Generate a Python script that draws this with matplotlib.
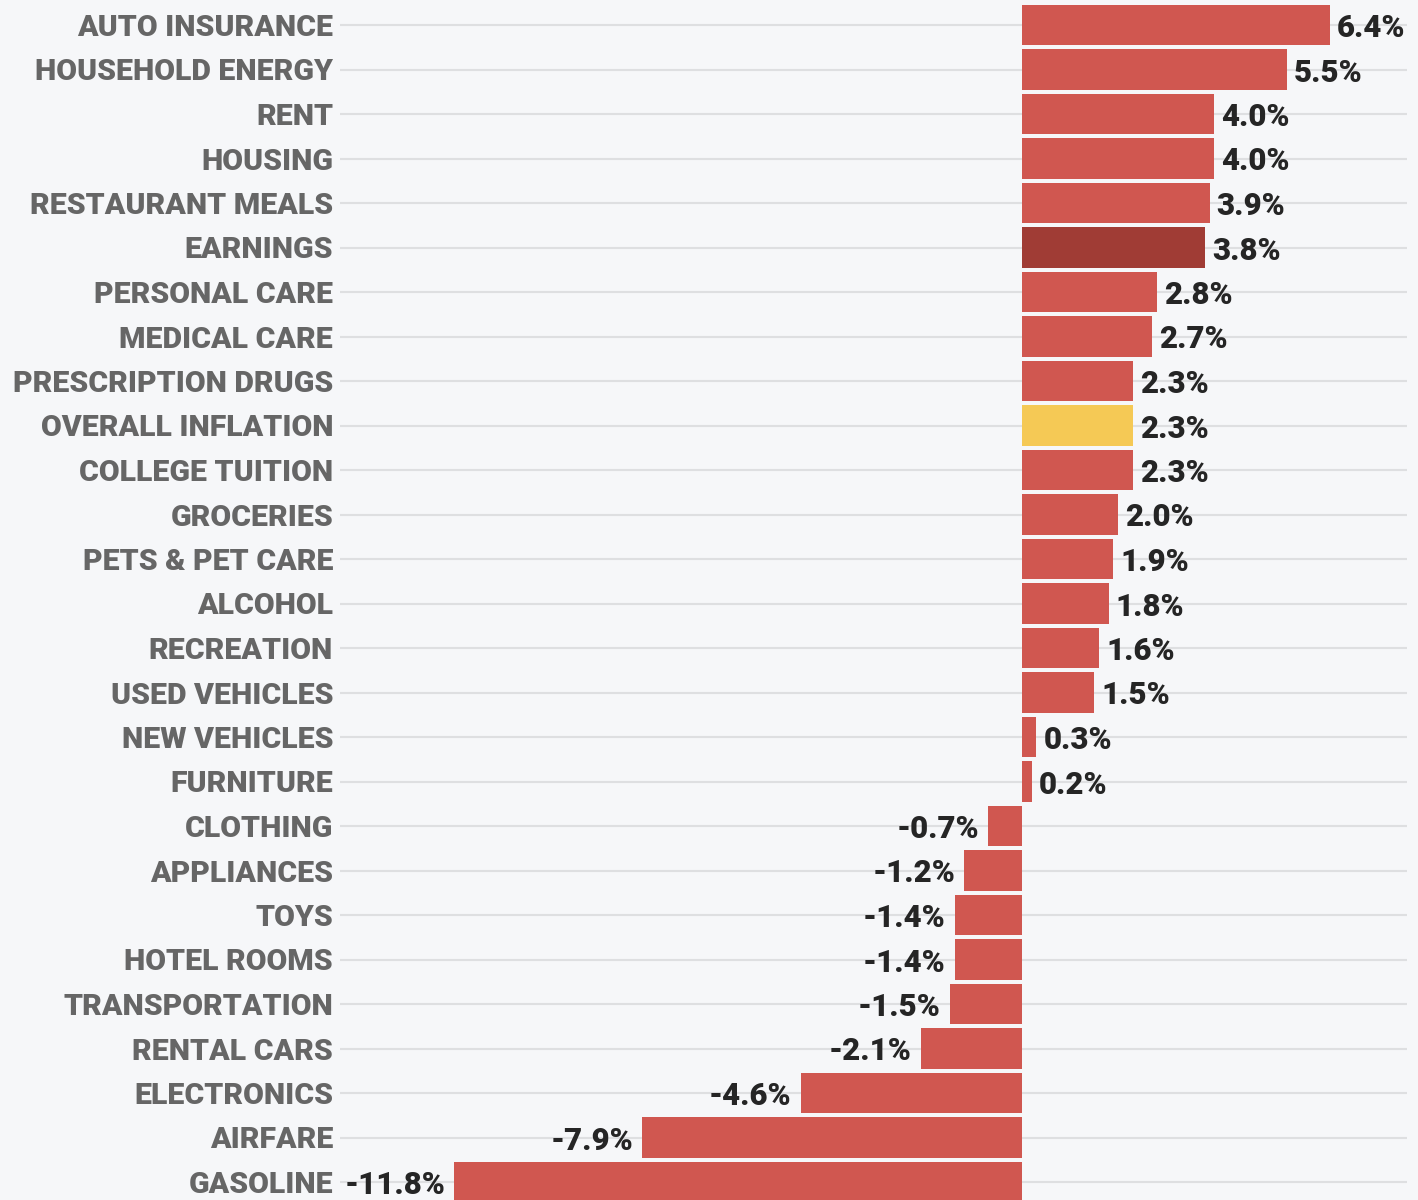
import matplotlib
matplotlib.use('Agg')
import matplotlib.pyplot as plt

categories = ['AUTO INSURANCE', 'HOUSEHOLD ENERGY', 'RENT', 'HOUSING', 'RESTAURANT MEALS',
              'EARNINGS', 'PERSONAL CARE', 'MEDICAL CARE', 'PRESCRIPTION DRUGS',
              'OVERALL INFLATION', 'COLLEGE TUITION', 'GROCERIES', 'PETS & PET CARE',
              'ALCOHOL', 'RECREATION', 'USED VEHICLES', 'NEW VEHICLES', 'FURNITURE',
              'CLOTHING', 'APPLIANCES', 'TOYS', 'HOTEL ROOMS', 'TRANSPORTATION',
              'RENTAL CARS', 'ELECTRONICS', 'AIRFARE', 'GASOLINE']
values = [6.4, 5.5, 4.0, 4.0, 3.9, 3.8, 2.8, 2.7, 2.3, 2.3, 2.3, 2.0, 1.9, 1.8, 1.6, 1.5,
          0.3, 0.2, -0.7, -1.2, -1.4, -1.4, -1.5, -2.1, -4.6, -7.9, -11.8]

bg = '#f6f7f9'
colors = []
for c in categories:
    if c == 'EARNINGS':
        colors.append('#a03c35')
    elif c == 'OVERALL INFLATION':
        colors.append('#f5c955')
    else:
        colors.append('#d05750')

fig = plt.figure(figsize=(14.18, 12), dpi=100, facecolor=bg)
ax = fig.add_axes([340 / 1418, 0, 1 - 340 / 1418, 1])
ax.set_facecolor(bg)

y = list(range(len(categories)))
xmin, xmax = -(1022 - 340) / 48.1, (1418 - 1022) / 48.1
ax.hlines(y, xmin, 8.0, color='#dedfe1', lw=1.5, zorder=0)
ax.barh(y, values, height=0.9, color=colors, zorder=2)

for yi, v in zip(y, values):
    txt = f'{v:.1f}%'
    if v >= 0:
        ax.annotate(txt, (v, yi), xytext=(7, 0), textcoords='offset pixels',
                    ha='left', va='center_baseline', fontsize=22.5, fontweight='black',
                    color='#252525', family=['Roboto', 'DejaVu Sans'])
    else:
        ax.annotate(txt, (v, yi), xytext=(-9, 0), textcoords='offset pixels',
                    ha='right', va='center_baseline', fontsize=22.5, fontweight='black',
                    color='#252525', family=['Roboto', 'DejaVu Sans'])

ax.set_xlim(xmin, xmax)
ax.set_ylim(26 + 18 / 44.5, -25 / 44.5)
ax.set_yticks(y)
ax.set_yticklabels(categories, fontsize=21.8, fontweight='black', color='#666666',
                   family=['Roboto', 'DejaVu Sans'])
ax.tick_params(axis='y', length=0, pad=5)
ax.set_xticks([])
for s in ax.spines.values():
    s.set_visible(False)

fig.savefig('out.png', dpi=100, facecolor=bg)
